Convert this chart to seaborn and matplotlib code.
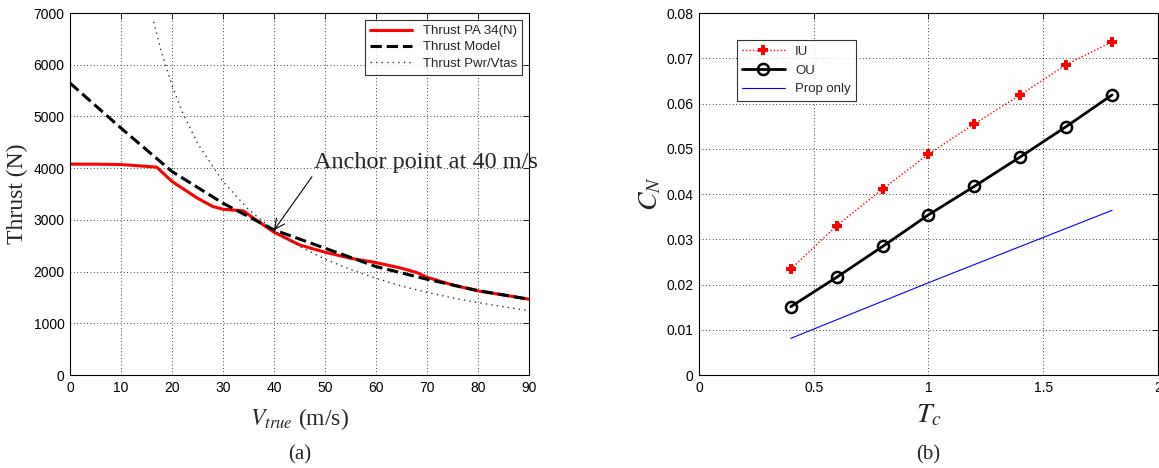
import matplotlib
matplotlib.use("Agg")
import matplotlib.pyplot as plt
import pandas as pd
import seaborn as sns

# ---- panel (a): thrust vs true airspeed
v_pa34 = [0, 5, 10, 17, 20, 25, 28, 30, 34, 36, 40, 45, 50, 55, 60, 65, 68, 70, 75, 80, 85, 90]
thrust_pa34 = [4077, 4077, 4070, 4020, 3742, 3419, 3258, 3206, 3174, 3032, 2761, 2516, 2374,
               2258, 2174, 2065, 1981, 1890, 1742, 1626, 1548, 1465]

v_model = [0, 10, 20, 30, 40, 50, 60, 70, 80, 90]
thrust_model = [5645, 4774, 3935, 3322, 2806, 2452, 2097, 1852, 1632, 1465]

v_pwr = [16.4, 18, 20, 22, 25, 30, 35, 40, 45, 50, 55, 60, 65, 70, 75, 80, 85, 90]
thrust_pwr = [6830, 6220, 5600, 5090, 4480, 3740, 3200, 2800, 2490, 2240, 2040, 1870,
              1720, 1600, 1490, 1400, 1320, 1245]

# ---- panel (b): normal force coefficient vs thrust coefficient
tc = [0.4, 0.6, 0.8, 1.0, 1.2, 1.4, 1.6, 1.8]
cn_iu = [0.0234, 0.0330, 0.0411, 0.0488, 0.0555, 0.0619, 0.0686, 0.0736]
cn_ou = [0.0151, 0.0216, 0.0284, 0.0354, 0.0417, 0.0482, 0.0549, 0.0619]
tc_prop = [0.4, 1.0, 1.8]
cn_prop = [0.0081, 0.0204, 0.0364]

sns.set_style("white")
plt.rcParams['font.family'] = ['Liberation Sans', 'DejaVu Sans']
plt.rcParams['mathtext.fontset'] = 'stix'
plt.rcParams['xtick.direction'] = 'in'
plt.rcParams['ytick.direction'] = 'in'
plt.rcParams['xtick.top'] = True
plt.rcParams['ytick.right'] = True

fig = plt.figure(figsize=(11.59, 4.68), dpi=100)
axa = fig.add_axes([0.0604, 0.1987, 0.396, 0.7735])
axb = fig.add_axes([0.6031, 0.1987, 0.396, 0.7735])

grid_kw = dict(color='black', linestyle=(0, (1, 3)), linewidth=0.6)
serif = ['Liberation Serif', 'DejaVu Serif']

# (a)
sns.lineplot(x=v_pa34, y=thrust_pa34, ax=axa, color='red', linewidth=2.2,
             label='Thrust PA 34(N)', sort=False)
sns.lineplot(x=v_model, y=thrust_model, ax=axa, color='black', linewidth=2.2,
             linestyle='--', label='Thrust Model', sort=False)
sns.lineplot(x=v_pwr, y=thrust_pwr, ax=axa, color='#333333', linewidth=1.0,
             linestyle=(0, (1, 3)), label='Thrust Pwr/Vtas', sort=False)
axa.set_xlim(0, 90)
axa.set_ylim(0, 7000)
axa.set_xticks(range(0, 91, 10))
axa.set_yticks(range(0, 7001, 1000))
axa.grid(True, **grid_kw)
axa.set_xlabel(r'$V_{true}$ (m/s)', fontsize=17, family=serif, labelpad=8)
axa.set_ylabel('Thrust (N)', fontsize=17, family=serif, labelpad=4)
axa.annotate('Anchor point at 40 m/s', xy=(40, 2800), xytext=(47.9, 4100),
             fontsize=17.5, family=serif, ha='left', va='center',
             arrowprops=dict(arrowstyle='->', color='black', lw=0.8, relpos=(0, 0),
                             shrinkA=0, shrinkB=0, mutation_scale=18))
leg = axa.legend(loc='upper right', fontsize=9.5, frameon=True, fancybox=False,
                 edgecolor='black', handlelength=3.2, labelspacing=0.3,
                 borderpad=0.4, borderaxespad=0.5)
leg.get_frame().set_linewidth(0.8)
axa.text(0.5, -0.221, '(a)', transform=axa.transAxes, ha='center', va='center',
         fontsize=15, family=serif)

# (b)
sns.lineplot(x=tc, y=cn_iu, ax=axb, color='red', linewidth=1.0, linestyle=(0, (1, 1.5)),
             marker='P', markersize=7, markeredgewidth=0, label='IU', sort=False)
sns.lineplot(x=tc, y=cn_ou, ax=axb, color='black', linewidth=2.0, marker='o',
             markersize=8, markerfacecolor='none', markeredgecolor='black',
             markeredgewidth=1.8, label='OU', sort=False)
sns.lineplot(x=tc_prop, y=cn_prop, ax=axb, color='blue', linewidth=0.8,
             label='Prop only', sort=False)
axb.set_xlim(0, 2)
axb.set_ylim(0, 0.08)
axb.set_xticks([0, 0.5, 1, 1.5, 2])
axb.set_xticklabels(['0', '0.5', '1', '1.5', '2'])
axb.set_yticks([0, 0.01, 0.02, 0.03, 0.04, 0.05, 0.06, 0.07, 0.08])
axb.set_yticklabels(['0', '0.01', '0.02', '0.03', '0.04', '0.05', '0.06', '0.07', '0.08'])
axb.grid(True, **grid_kw)
axb.set_xlabel(r'$T_c$', fontsize=20, labelpad=6)
axb.set_ylabel(r'$C_N$', fontsize=20, labelpad=2)
leg = axb.legend(loc='upper left', bbox_to_anchor=(0.083, 0.925), fontsize=9.5,
                 frameon=True, fancybox=False, edgecolor='black', handlelength=3.2,
                 labelspacing=0.5, borderpad=0.4, borderaxespad=0)
leg.get_frame().set_linewidth(0.8)
axb.text(0.5, -0.221, '(b)', transform=axb.transAxes, ha='center', va='center',
         fontsize=15, family=serif)

for ax in (axa, axb):
    ax.tick_params(labelsize=10, length=4, width=0.6, pad=4, colors='black')
    for s in ax.spines.values():
        s.set_color('black')
        s.set_linewidth(0.8)

fig.savefig('out.png', dpi=100)
